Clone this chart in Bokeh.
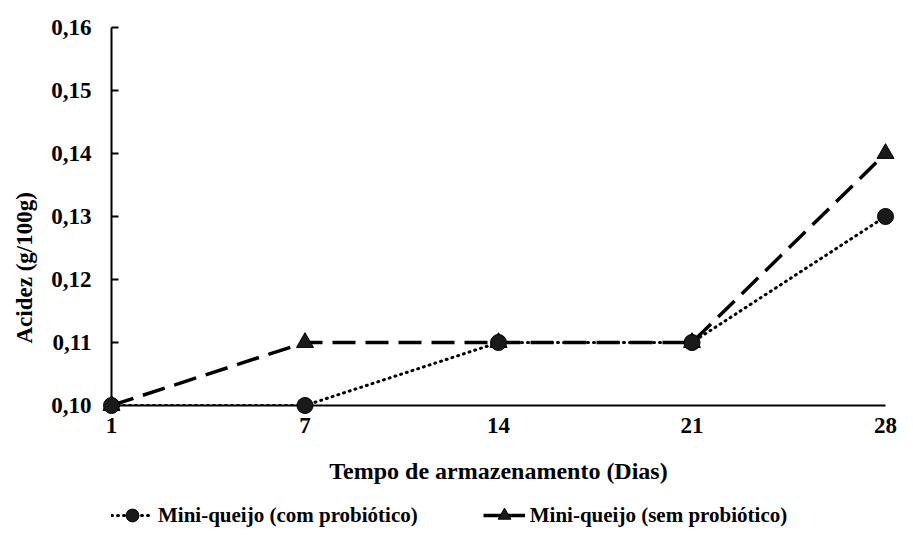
from bokeh.plotting import figure
from bokeh.layouts import column
from bokeh.models import (Range1d, FixedTicker, CustomJSTickFormatter, Legend,
                          LegendItem, Title)
from bokeh.embed import file_html
from bokeh.resources import INLINE

# ---- data ----
days = ["1", "7", "14", "21", "28"]
com_probiotico = [0.10, 0.10, 0.11, 0.11, 0.13]
sem_probiotico = [0.10, 0.11, 0.11, 0.11, 0.14]
y_ticks = [0.10, 0.11, 0.12, 0.13, 0.14, 0.15, 0.16]
label_com = "Mini-queijo (com probiótico)"
label_sem = "Mini-queijo (sem probiótico)"
x_title = "Tempo de armazenamento (Dias)"
y_title = "Acidez (g/100g)"

x_idx = list(range(len(days)))
FONT = "Liberation Serif"
W = 897
H_MAIN = 493
H_LEG = 38

COM_STYLE = dict(line_color="black", line_width=3, line_dash="1 5", line_cap="round")
SEM_STYLE = dict(line_color="black", line_width=3.5, line_dash="23 10")
COM_MARK = dict(marker="circle", size=16, fill_color="#1a1a1a", line_color="black")
SEM_MARK = dict(marker="triangle", size=17, fill_color="#1a1a1a", line_color="black")

p = figure(width=W, height=H_MAIN, output_backend="svg", toolbar_location=None,
           x_range=Range1d(0, len(days) - 1),
           y_range=Range1d(y_ticks[0], y_ticks[-1]),
           min_border_left=111, min_border_right=12,
           min_border_top=27, min_border_bottom=88)
p.outline_line_color = None
p.xgrid.visible = False
p.ygrid.visible = False
p.background_fill_color = "white"
p.border_fill_color = "white"

p.line(x_idx, sem_probiotico, **SEM_STYLE)
p.line(x_idx, com_probiotico, **COM_STYLE)
p.scatter(x_idx, sem_probiotico, level="overlay", **SEM_MARK)
p.scatter(x_idx, com_probiotico, level="overlay", **COM_MARK)

# x axis
xa = p.xaxis[0]
xa.ticker = FixedTicker(ticks=x_idx)
xa.major_label_overrides = {i: d for i, d in zip(x_idx, days)}
xa.axis_label = x_title
xa.axis_line_width = 2
xa.axis_line_color = "black"
xa.major_tick_in = 0
xa.major_tick_out = 0
xa.minor_tick_line_color = None
xa.major_label_standoff = 12
xa.axis_label_standoff = 22
xa.major_label_text_font = FONT
xa.major_label_text_font_style = "bold"
xa.major_label_text_font_size = "23px"
xa.major_label_text_color = "black"
xa.axis_label_text_font = FONT
xa.axis_label_text_font_style = "bold"
xa.axis_label_text_font_size = "24px"
xa.axis_label_text_color = "black"

# y axis
ya = p.yaxis[0]
ya.ticker = FixedTicker(ticks=y_ticks)
ya.formatter = CustomJSTickFormatter(code="return tick.toFixed(2).replace('.', ',');")
ya.axis_line_width = 2
ya.axis_line_color = "black"
ya.major_tick_in = 7
ya.major_tick_out = 0
ya.major_tick_line_width = 2
ya.major_tick_line_color = "black"
ya.minor_tick_line_color = None
ya.major_label_standoff = 20
ya.major_label_text_font = FONT
ya.major_label_text_font_style = "bold"
ya.major_label_text_font_size = "23px"
ya.major_label_text_color = "black"

p.add_layout(Title(text=y_title, align="left", offset=62, standoff=21,
                   vertical_align="middle",
                   text_font=FONT, text_font_style="bold",
                   text_font_size="23px", text_color="black"), "left")

# ---- legend strip (same series, drawn outside its view; only the legend shows) ----
q = figure(width=W, height=H_LEG, output_backend="svg", toolbar_location=None,
           x_range=Range1d(100, 101), y_range=Range1d(100, 101),
           x_axis_location=None, y_axis_location=None,
           min_border_left=0, min_border_right=0, min_border_top=0,
           min_border_bottom=0)
q.outline_line_color = None
q.xgrid.visible = False
q.ygrid.visible = False
q.background_fill_color = "white"
q.border_fill_color = "white"
lc = q.line(x_idx, com_probiotico, **COM_STYLE)
sc = q.scatter(x_idx, com_probiotico, **COM_MARK)
ls = q.line(x_idx, sem_probiotico, line_color="black", line_width=3.5)
ss = q.scatter(x_idx, sem_probiotico, **SEM_MARK)

legend = Legend(items=[LegendItem(label=label_com, renderers=[lc, sc]),
                       LegendItem(label=label_sem, renderers=[ls, ss])],
                orientation="horizontal", location=(0, 0),
                glyph_width=42, glyph_height=32, label_standoff=5, spacing=65,
                padding=0, margin=0, border_line_color=None,
                background_fill_alpha=0,
                label_text_font=FONT, label_text_font_style="bold",
                label_text_font_size="21px", label_text_color="black")
q.add_layout(legend)

open("out.html", "w").write(file_html(column(p, q, spacing=0), INLINE))
